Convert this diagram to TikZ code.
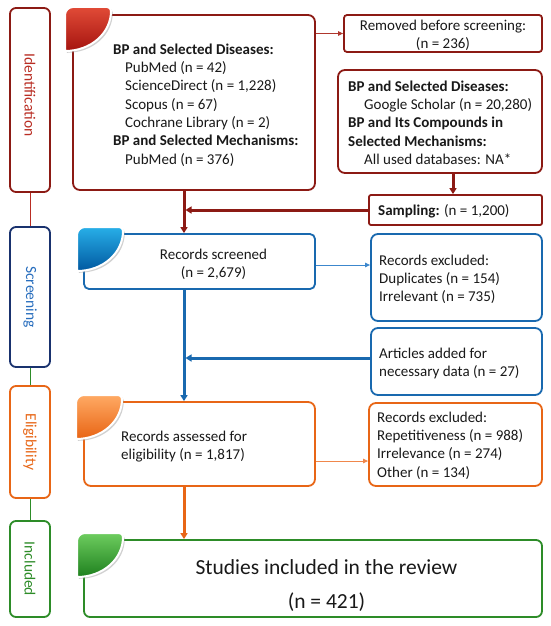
\documentclass[tikz,border=0pt]{standalone}
\usepackage{fontspec}
\setmainfont{Carlito}
\usetikzlibrary{arrows.meta}
\definecolor{dred}{RGB}{140,26,20}
\definecolor{tred}{RGB}{185,45,35}
\definecolor{lred}{RGB}{175,55,45}
\definecolor{mblue}{RGB}{25,105,175}
\definecolor{lblue}{RGB}{60,135,205}
\definecolor{nblue}{RGB}{25,50,110}
\definecolor{tblue}{RGB}{40,110,190}
\definecolor{orng}{RGB}{232,102,22}
\definecolor{lorng}{RGB}{240,135,75}
\definecolor{grn}{RGB}{45,140,40}
\definecolor{txt}{RGB}{25,25,25}
\definecolor{redtop}{RGB}{225,75,55}
\definecolor{redbot}{RGB}{165,20,15}
\definecolor{bluetop}{RGB}{40,175,232}
\definecolor{bluebot}{RGB}{0,88,160}
\definecolor{orngtop}{RGB}{255,170,100}
\definecolor{orngbot}{RGB}{232,100,20}
\definecolor{grntop}{RGB}{110,205,95}
\definecolor{grnbot}{RGB}{30,128,30}
\newcommand\cornerleaf[4]{%
  \begin{scope}[shift={(#1,#2)}]
    \fill[black!40, opacity=.45] (1.8,9.8) .. controls (1.8,5.4) and (5.4,1.8) .. (9.8,1.8) -- (43.8,1.8) .. controls (46.3,1.8) and (47.8,3.3) .. (47.8,5.8) .. controls (47.8,27.8) and (27.8,45.8) .. (1.8,45.8) -- cycle;
    \draw[white, line width=2pt, top color=#3, bottom color=#4] (0,8) .. controls (0,3.6) and (3.6,0) .. (8,0) -- (42,0) .. controls (44.5,0) and (46,1.5) .. (46,4) .. controls (46,26) and (26,44) .. (0,44) -- cycle;
  \end{scope}}
\tikzset{
  mainbox/.style={draw, line width=1.8pt, fill=white, rounded corners=7pt, inner sep=0pt},
  sidebox/.style={draw, line width=1.8pt, fill=white, rounded corners=6pt, inner sep=0pt, minimum width=40pt},
  sidetext/.style={rotate=-90, inner sep=0pt, font=\fontsize{15.5}{18}\selectfont},
  bodytext/.style={inner sep=0pt, text=txt, align=left, anchor=north west, font=\fontsize{15}{18.3}\selectfont},
  thick arrow/.style={line width=3pt, -{Triangle[length=6pt,width=7pt]}},
  thin arrow/.style={line width=1pt, -{Triangle[length=5pt,width=4.5pt]}},
}
\newcommand\fs{\rule{0pt}{12pt}}
\begin{document}
\begin{tikzpicture}[x=1pt, y=-1pt]
\useasboundingbox (0,0) rectangle (550,626);
\fill[white] (0,0) rectangle (550,626);
\coordinate (tx) at (184,0);

% side boxes
\node[sidebox, draw=dred, minimum height=184pt] (id) at (30,100) {};
\node[sidebox, draw=nblue, minimum height=140pt] (sc) at (30,297) {};
\node[sidebox, draw=orng, minimum height=112pt] (el) at (30,442) {};
\node[sidebox, draw=grn, minimum height=96pt] (in) at (30,569) {};
\node[sidetext, text=tred] (idt) at (30,95) {Identification};
\node[sidetext, text=tblue] (sct) at (30,297) {Screening};
\node[sidetext, text=orng] (elt) at (30,442) {Eligibility};
\node[sidetext, text=grn] (intt) at (30,569) {Included};
\draw[tred, line width=1pt] (id.south) -- (sc.north);
\draw[grn, line width=1pt] (sc.south) -- (el.north);
\draw[grn, line width=1pt] (el.south) -- (in.north);

% main boxes
\node[mainbox, draw=dred, minimum width=242pt, minimum height=175pt] (b1) at (194,102.5) {};
\node[mainbox, draw=dred, rounded corners=3pt, minimum width=198pt, minimum height=37pt] (rem) at (443,33.5) {};
\node[mainbox, draw=dred, minimum width=204pt, minimum height=103pt] (gs) at (440,121.5) {};
\node[mainbox, draw=dred, rounded corners=2pt, minimum width=173pt, minimum height=30pt] (samp) at (455.5,210) {};
\node[mainbox, draw=mblue, rounded corners=5pt, minimum width=231pt, minimum height=55pt] (scr) at (199.5,261.5) {};
\node[mainbox, draw=mblue, minimum width=171pt, minimum height=87pt] (bex) at (456.5,277.5) {};
\node[mainbox, draw=mblue, minimum width=171pt, minimum height=67pt] (art) at (456.5,361.5) {};
\node[mainbox, draw=orng, minimum width=231pt, minimum height=84pt] (ass) at (199.5,444) {};
\node[mainbox, draw=orng, minimum width=173pt, minimum height=83pt] (oex) at (455.5,444.5) {};
\node[mainbox, draw=grn, rounded corners=6pt, minimum width=458pt, minimum height=77pt] (stu) at (313,578.5) {};

% corner leaves
\cornerleaf{65}{7}{redtop}{redbot}
\cornerleaf{77}{227}{bluetop}{bluebot}
\cornerleaf{76}{395}{orngtop}{orngbot}
\cornerleaf{77}{533}{grntop}{grnbot}

% texts
\node[bodytext] (b1t) at (113,42) {\fs\textbf{BP and Selected Diseases:}\\
\hspace*{12pt}PubMed (n = 42)\\
\hspace*{12pt}ScienceDirect (n = 1,228)\\
\hspace*{12pt}Scopus (n = 67)\\
\hspace*{12pt}Cochrane Library (n = 2)\\
\textbf{BP and Selected Mechanisms:}\\
\hspace*{12pt}PubMed (n = 376)};
\node[bodytext, align=center, anchor=north] (remt) at (443,18) {\fs Removed before screening:\\(n = 236)};
\node[bodytext] (gst) at (348,79) {\fs\textbf{BP and Selected Diseases:}\\
\hspace*{16pt}Google Scholar (n = 20,280)\\
\textbf{BP and Its Compounds in}\\
\textbf{Selected Mechanisms:}\\
\hspace*{16pt}All used databases: NA*};
\node[bodytext] (sampt) at (378,203) {\fs\textbf{Sampling:} (n = 1,200)};
\node[bodytext, align=center, anchor=north] (scrt) at (213.5,247) {\fs Records screened\\(n = 2,679)};
\node[bodytext] (bext) at (379,253) {\fs Records excluded:\\Duplicates (n = 154)\\Irrelevant (n = 735)};
\node[bodytext] (artt) at (379,346) {\fs Articles added for\\necessary data (n = 27)};
\node[bodytext] (asst) at (121,429) {\fs Records assessed for\\eligibility (n = 1,817)};
\node[bodytext] (oext) at (377,410) {\fs Records excluded:\\Repetitiveness (n = 988)\\Irrelevance (n = 274)\\Other (n = 134)};
\node[inner sep=0pt, text=txt, align=center, anchor=north, font=\fontsize{21.5}{34}\selectfont] (stut) at (326.5,557) {\rule{0pt}{17pt}Studies included in the review\\(n = 421)};

% connectors
\draw[lred, thin arrow] (b1.east |- rem.west) -- (rem.west);
\draw[dred, thick arrow] ([xshift=13pt]gs.south) -- ([xshift=13pt]gs.south |- samp.north);
\draw[dred, thick arrow] (b1.south -| tx) -- (scr.north -| tx);
\draw[dred, thick arrow, shorten >=1.5pt] (samp.west) -- (samp.west -| tx);
\draw[lblue, thin arrow] ([yshift=-3.5pt]scr.east) -- ([yshift=-3.5pt]scr.east -| bex.west);
\draw[mblue, thick arrow, shorten >=1.5pt] ([yshift=3.5pt]art.west) -- ([yshift=3.5pt]art.west -| tx);
\draw[mblue, thick arrow] (scr.south -| tx) -- (ass.north -| tx);
\draw[lorng, thin arrow] ([yshift=-17pt]ass.east) -- ([yshift=-17pt]ass.east -| oex.west);
\draw[orng, thick arrow] (ass.south -| tx) -- (stu.north -| tx);
\end{tikzpicture}
\end{document}
